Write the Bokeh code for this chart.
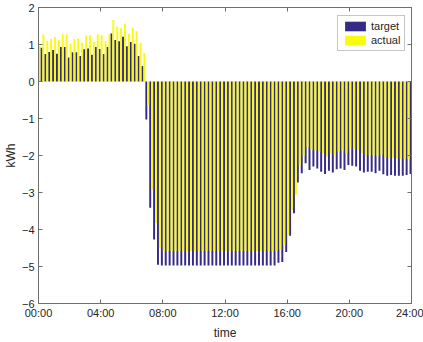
from bokeh.plotting import figure
from bokeh.models import ColumnDataSource, FixedTicker, LinearAxis, Range1d, Legend, LegendItem
from bokeh.transform import dodge
from bokeh.embed import file_html
from bokeh.resources import INLINE

# x ticks (hours) and their labels
tick_hours = [0, 4, 8, 12, 16, 20, 24]
tick_labels = ["00:00", "04:00", "08:00", "12:00", "16:00", "20:00", "24:00"]
y_ticks = [-6, -5, -4, -3, -2, -1, 0, 1, 2]

# 15-minute slots from 00:00 to 24:00 (hours)
slot_hours = [k * 0.25 for k in range(97)]

target = [
    0.95, 0.91, 0.74, 0.80, 0.85, 0.75, 0.93, 0.93, 0.65, 0.79, 0.79, 0.69, 0.87, 0.89,
    0.72, 0.93, 0.88, 0.74, 0.93, 1.30, 1.12, 1.09, 1.21, 0.95, 1.07, 1.02, 0.69, 0.42,
    -1.03, -3.41, -4.27, -4.95,
    -4.97, -4.97, -4.97, -4.97, -4.97, -4.97, -4.97, -4.97, -4.97, -4.97,
    -4.97, -4.97, -4.97, -4.97, -4.97, -4.97, -4.97, -4.97, -4.97, -4.97,
    -4.97, -4.97, -4.97, -4.97, -4.97, -4.97, -4.97, -4.97, -4.97, -4.97,
    -4.90, -4.88, -4.61, -4.17, -3.56, -2.73, -2.48, -2.21,
    -2.39, -2.30, -2.35, -2.44, -2.50, -2.41, -2.46, -2.37, -2.35, -2.39,
    -2.26, -2.28, -2.30, -2.41, -2.46, -2.44, -2.44, -2.48, -2.41, -2.51,
    -2.55, -2.53, -2.55, -2.55, -2.55, -2.53, -2.50,
]

actual = [
    0.96, 1.28, 1.10, 1.15, 1.20, 1.12, 1.28, 1.28, 1.02, 1.15, 1.16, 1.05, 1.24, 1.25,
    1.07, 1.28, 1.25, 1.09, 1.28, 1.66, 1.48, 1.44, 1.57, 1.30, 1.45, 1.36, 1.05, 0.77,
    -0.65, -2.93, -3.83, -4.49,
    -4.58, -4.58, -4.58, -4.58, -4.58, -4.58, -4.58, -4.58, -4.58, -4.58,
    -4.58, -4.58, -4.58, -4.58, -4.58, -4.58, -4.58, -4.58, -4.58, -4.58,
    -4.58, -4.58, -4.58, -4.58, -4.58, -4.58, -4.58, -4.58, -4.58, -4.58,
    -4.55, -4.41, -4.14, -3.47, -3.06, -2.26, -2.02, -1.77,
    -1.85, -1.85, -1.90, -1.94, -2.03, -1.94, -1.99, -1.90, -1.87, -1.94,
    -1.81, -1.83, -1.85, -1.94, -2.02, -1.99, -1.99, -2.02, -1.97, -2.06,
    -2.08, -2.06, -2.08, -2.09, -2.09, -2.10, -2.03,
]

TARGET_COLOR = "#352A87"
ACTUAL_COLOR = "#F9FB0E"
AXIS_COLOR = "#6e6e6e"
TEXT_COLOR = "#262626"
FONT = "Liberation Sans"

src = ColumnDataSource(dict(hour=slot_hours, target=target, actual=actual))

p = figure(width=423, height=342, output_backend="svg", toolbar_location=None,
           x_range=Range1d(0, 24), y_range=Range1d(-6, 2),
           min_border_left=36, min_border_right=12, min_border_top=7, min_border_bottom=39)
p.background_fill_color = "white"
p.border_fill_color = "white"
p.outline_line_color = AXIS_COLOR
p.outline_line_width = 1
p.grid.visible = False

bw = 0.125
r_t = p.vbar(x=dodge("hour", -bw / 2), top="target", bottom=0, width=bw, source=src,
             fill_color=TARGET_COLOR, line_color=None)
r_a = p.vbar(x=dodge("hour", bw / 2), top="actual", bottom=0, width=bw, source=src,
             fill_color=ACTUAL_COLOR, line_color=None)


def style_axis(ax, show_labels=True):
    ax.axis_line_color = AXIS_COLOR
    ax.major_tick_line_color = AXIS_COLOR
    ax.major_tick_in = 4
    ax.major_tick_out = 0
    ax.minor_tick_line_color = None
    ax.major_label_text_font = FONT
    ax.major_label_text_color = TEXT_COLOR
    ax.axis_label_text_font = FONT
    ax.axis_label_text_color = TEXT_COLOR
    ax.axis_label_text_font_style = "normal"
    if show_labels:
        ax.major_label_text_font_size = "11px"
        ax.axis_label_text_font_size = "12px"
    else:
        ax.major_label_text_font_size = "0px"
        ax.major_label_standoff = 0
        ax.axis_label_standoff = 0


xa = p.xaxis[0]
xa.ticker = FixedTicker(ticks=tick_hours)
xa.major_label_overrides = {h: lab for h, lab in zip(tick_hours, tick_labels)}
xa.axis_label = "time"
xa.major_label_standoff = 3
xa.axis_label_standoff = 4
style_axis(xa)

ya = p.yaxis[0]
ya.ticker = FixedTicker(ticks=y_ticks)
ya.axis_label = "kWh"
ya.major_label_standoff = 4
ya.axis_label_standoff = 1
style_axis(ya)

top_ax = LinearAxis(ticker=FixedTicker(ticks=tick_hours))
top_ax.major_label_overrides = {h: "" for h in tick_hours}
style_axis(top_ax, show_labels=False)
p.add_layout(top_ax, "above")

right_ax = LinearAxis(ticker=FixedTicker(ticks=y_ticks))
right_ax.major_label_overrides = {t: "" for t in y_ticks}
style_axis(right_ax, show_labels=False)
p.add_layout(right_ax, "right")

legend = Legend(items=[LegendItem(label="target", renderers=[r_t]),
                       LegendItem(label="actual", renderers=[r_a])],
                location=(299, 252))
legend.label_text_font = FONT
legend.label_text_font_size = "11px"
legend.label_text_color = TEXT_COLOR
legend.glyph_width = 26
legend.glyph_height = 12
legend.label_height = 12
legend.label_standoff = 3
legend.padding = 4
legend.spacing = 2
legend.margin = 0
legend.border_line_color = "#8c8c8c"
legend.border_line_width = 1
legend.background_fill_color = "white"
legend.background_fill_alpha = 1.0
p.add_layout(legend, "center")

open("out.html", "w").write(file_html(p, INLINE))
